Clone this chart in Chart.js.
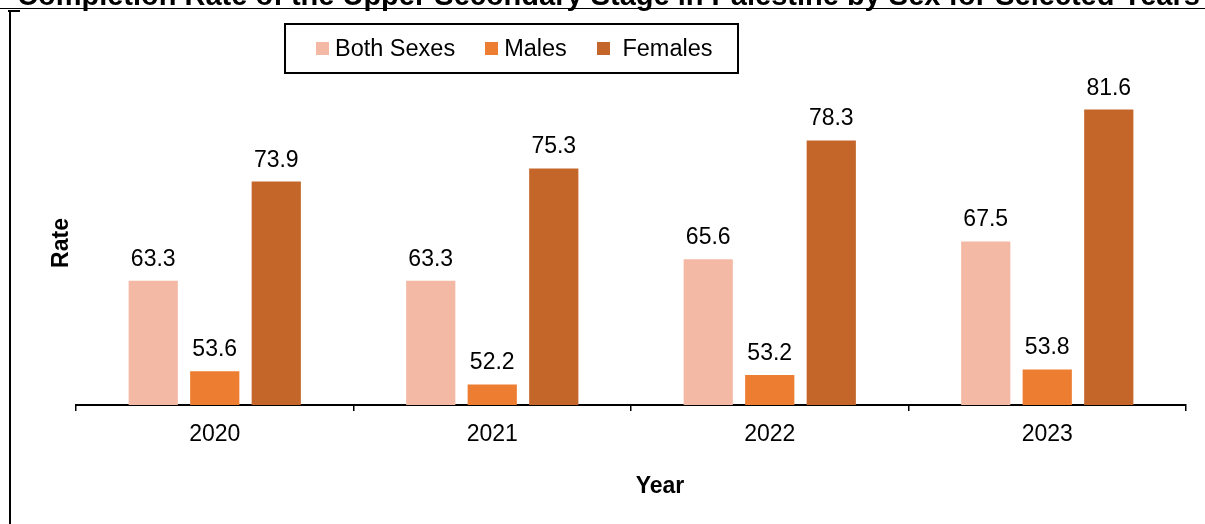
<!DOCTYPE html>
<html>
<head>
<meta charset="utf-8">
<script src="https://cdn.jsdelivr.net/npm/chart.js@4"></script>
<style>
    body { margin: 0; background: #fff; }
    #wrap { position: relative; width: 1205px; height: 524px; overflow: hidden; font-family: "Liberation Sans", Arial, sans-serif; }
    #tracker { position: absolute; left: 0; top: 0; }
    .rule { position: absolute; background: #000; }
    #legend {
        position: absolute; left: 284px; top: 23px; width: 455px; height: 51px;
        box-sizing: border-box; border: 2px solid #000; display: flex; align-items: center;
        padding-left: 30px; font-size: 23.5px; color: #000;
    }
    #legend .item { display: flex; align-items: center; margin-right: 30px; white-space: pre; }
    #legend .swatch { width: 13px; height: 13px; margin-right: 6px; }
</style>
</head>
<body>
<div id="wrap">
    <canvas id="tracker" width="1205" height="524"></canvas>
    <div class="rule" style="left:0;top:8px;width:1205px;height:1px;"></div>
    <div class="rule" style="left:8px;top:10px;width:12px;height:2px;"></div>
    <div class="rule" style="left:9px;top:10px;width:2px;height:514px;"></div>
    <div id="legend"></div>
</div>
<script>
const years = ['2020', '2021', '2022', '2023'];
const seriesNames = ['Both Sexes', 'Males', ' Females'];
const bothSexes = [63.3, 63.3, 65.6, 67.5];
const males = [53.6, 52.2, 53.2, 53.8];
const females = [73.9, 75.3, 78.3, 81.6];
const colors = ['#F4B9A5', '#ED7D31', '#C4662A'];
const titleText = 'Completion Rate of the Upper Secondary Stage in Palestine by Sex for Selected Years';

const FONT = '"Liberation Sans", Arial, sans-serif';

// legend box
const legendEl = document.getElementById('legend');
seriesNames.forEach((name, i) => {
    const item = document.createElement('div');
    item.className = 'item';
    const sw = document.createElement('span');
    sw.className = 'swatch';
    sw.style.background = colors[i];
    item.appendChild(sw);
    item.appendChild(document.createTextNode(name));
    legendEl.appendChild(item);
});

// title, axis titles and value labels
const extras = {
    id: 'extras',
    afterDraw(chart) {
        const ctx = chart.ctx;
        ctx.save();
        ctx.fillStyle = '#000';

        // title is cut off at the top in the original
        ctx.font = 'bold 29px ' + FONT;
        ctx.textAlign = 'left';
        ctx.textBaseline = 'alphabetic';
        ctx.fillText(titleText, 17, 5);

        ctx.font = '23px ' + FONT;
        ctx.textAlign = 'center';
        chart.data.datasets.forEach((ds, i) => {
            chart.getDatasetMeta(i).data.forEach((bar, j) => {
                ctx.fillText(ds.data[j].toFixed(1), bar.x, bar.y - 15);
            });
        });

        ctx.font = 'bold 23px ' + FONT;
        ctx.fillText('Year', 660, 493);
        ctx.translate(68, 243);
        ctx.rotate(-Math.PI / 2);
        ctx.fillText('Rate', 0, 0);
        ctx.restore();
    }
};

const ctx = document.getElementById('tracker');
const chart = new Chart(ctx, {
    type: 'bar',
    data: {
        labels: years,
        datasets: [bothSexes, males, females].map((vals, i) => ({
            label: seriesNames[i],
            data: vals,
            backgroundColor: colors[i],
            borderWidth: 0,
            categoryPercentage: 0.665,
            barPercentage: 0.8
        }))
    },
    options: {
        responsive: false,
        animation: false,
        devicePixelRatio: 1,
        layout: { padding: { left: 76, right: 19, top: 31, bottom: 0 } },
        plugins: {
            legend: { display: false },
            tooltip: { enabled: false }
        },
        scales: {
            y: {
                display: false,
                min: 50,
                max: 90
            },
            x: {
                afterFit: (scale) => { scale.height = 119; },
                border: { display: true, color: '#000', width: 2 },
                grid: {
                    display: true,
                    drawOnChartArea: false,
                    drawTicks: true,
                    tickLength: 6,
                    color: '#000',
                    lineWidth: 1.5
                },
                ticks: {
                    color: '#000',
                    padding: 10,
                    font: { size: 23, family: FONT }
                }
            }
        }
    },
    plugins: [extras]
});
</script>
</body>
</html>
